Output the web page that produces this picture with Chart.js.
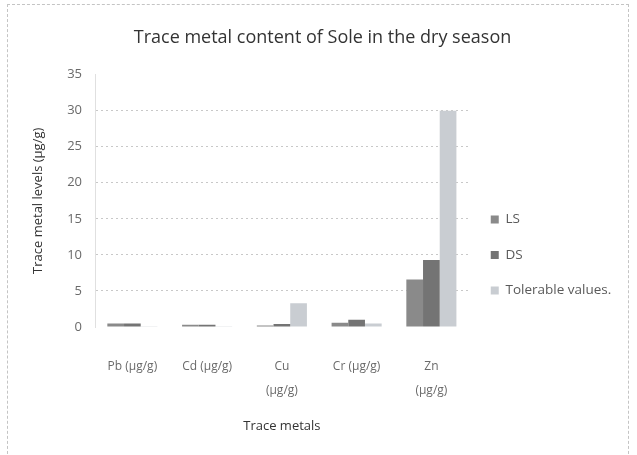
<!DOCTYPE html>
<html>
<head>
<meta charset="utf-8">
<script src="https://cdn.jsdelivr.net/npm/chart.js@4/dist/chart.umd.min.js"></script>
<style>
  html, body { margin: 0; padding: 0; background: #fff; }
  #wrap { position: relative; width: 637px; height: 455px; }
  #frame { position: absolute; left: 7px; top: 4px; width: 622px; height: 460px; border: 1px dashed #c4c4c4; box-sizing: border-box; }
  canvas { position: absolute; left: 0; top: 0; }
</style>
</head>
<body>
<div id="wrap">
  <div id="frame"></div>
  <canvas id="c" width="637" height="455"></canvas>
</div>
<script>
const categories = [["Pb (µg/g)"], ["Cd (µg/g)"], ["Cu", "(µg/g)"], ["Cr (µg/g)"], ["Zn", "(µg/g)"]];
const seriesNames = ["LS", "DS", "Tolerable values."];
const lsValues = [0.5, 0.3, 0.2, 0.6, 6.6];
const dsValues = [0.5, 0.3, 0.4, 1.0, 9.3];
const tolerableValues = [0.1, 0.02, 3.3, 0.5, 30];
const yTickValues = [0, 5, 10, 15, 20, 25, 30, 35];

const FONT = "'Open Sans', 'Noto Sans', sans-serif";
const colors = ["#8a8a8a", "#747474", "#c9cdd2"];

const legendShift = {
  id: 'legendShift',
  afterLayout(chart) {
    const lg = chart.legend;
    if (!lg) return;
    const dy = 255 - (lg.top + lg.bottom) / 2;
    lg.top += dy; lg.bottom += dy;
  }
};

new Chart(document.getElementById('c'), {
  type: 'bar',
  data: {
    labels: categories,
    datasets: [
      { label: seriesNames[0], data: lsValues, backgroundColor: colors[0] },
      { label: seriesNames[1], data: dsValues, backgroundColor: colors[1] },
      { label: seriesNames[2], data: tolerableValues, backgroundColor: colors[2] }
    ]
  },
  plugins: [legendShift],
  options: {
    responsive: false,
    animation: false,
    layout: { padding: { left: 30, right: 22, top: 27, bottom: 21 } },
    datasets: { bar: { barPercentage: 1.0, categoryPercentage: 0.67 } },
    plugins: {
      title: {
        display: true,
        text: 'Trace metal content of Sole in the dry season',
        color: '#333333',
        font: { family: FONT, size: 18, weight: 'normal' },
        padding: { top: 0, bottom: 26 }
      },
      legend: {
        position: 'right',
        align: 'center',
        labels: {
          color: '#5a5a5a',
          font: { family: FONT, size: 13.5 },
          boxWidth: 8,
          boxHeight: 8,
          padding: 22
        }
      },
      tooltip: { enabled: false }
    },
    scales: {
      x: {
        afterFit(scale) { scale.height = 107; },
        grid: { display: false, drawTicks: false },
        border: { display: false },
        ticks: {
          color: '#6a6a6a',
          font: { family: FONT, size: 12, lineHeight: 2.0 },
          padding: 28,
          maxRotation: 0,
          autoSkip: false
        },
        title: {
          display: true,
          text: 'Trace metals',
          color: '#333333',
          font: { family: FONT, size: 13 },
          padding: { top: 0, bottom: 0 }
        }
      },
      y: {
        min: 0,
        max: 35,
        afterBuildTicks(scale) { scale.ticks = yTickValues.map(v => ({ value: v })); },
        afterFit(scale) { scale.width = 65; },
        grid: {
          drawTicks: false,
          color: (ctx) => (ctx.tick && (ctx.tick.value === 0 || ctx.tick.value === 35)) ? 'rgba(0,0,0,0)' : '#c8c8c8'
        },
        border: { display: true, color: '#e0e0e0', dash: [2, 3] },
        ticks: {
          color: '#6a6a6a',
          font: { family: FONT, size: 13 },
          padding: 13
        },
        title: {
          display: true,
          text: 'Trace metal levels (µg/g)',
          color: '#333333',
          font: { family: FONT, size: 13 },
          padding: { top: 0, bottom: 0 }
        }
      }
    }
  }
});
</script>
</body>
</html>
